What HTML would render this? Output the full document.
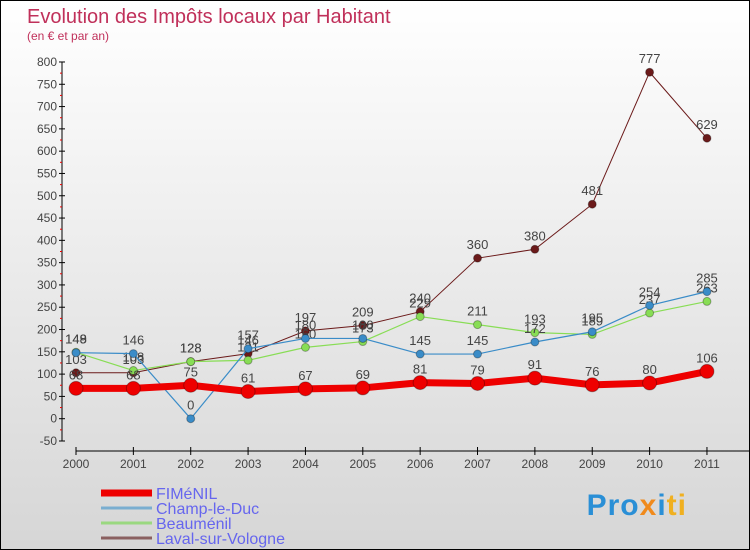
<!DOCTYPE html>
<html><head><meta charset="utf-8"><style>
body{margin:0}
#c{width:748px;height:548px;border:1px solid #000;background:linear-gradient(#fff,#d6d6d6);position:relative;font-family:"Liberation Sans",sans-serif;overflow:hidden}
svg text{font-family:"Liberation Sans",sans-serif}
</style></head><body>
<div id="c">
<svg id="s" width="748" height="548">
<text x="26" y="22" font-size="20" fill="#c0305a">Evolution des Impôts locaux par Habitant</text>
<text x="26" y="39" font-size="12" fill="#c0305a">(en € et par an)</text>
</svg>
<div style="position:absolute;right:62px;top:488px;font-size:30px;font-weight:bold;letter-spacing:1px"><span style="color:#2a8fd6">Pro</span><span style="color:#f08a1c">x</span><span style="color:#2a8fd6">i</span><span style="color:#f0b020">ti</span></div>
</div>
<script>
const years=[2000,2001,2002,2003,2004,2005,2006,2007,2008,2009,2010,2011];
const fimenil=[68,68,75,61,67,69,81,79,91,76,80,106];
const champ=[148,146,0,157,180,180,145,145,172,195,254,285];
const beau=[149,108,128,131,160,173,229,211,193,189,237,263];
const laval=[103,103,128,146,197,209,240,360,380,481,777,629];
const yTicks=[800,750,700,650,600,550,500,450,400,350,300,250,200,150,100,50,0,-50];
const ns="http://www.w3.org/2000/svg",s=document.getElementById('s');
const X=i=>75+i*57.36, Y=v=>417.7-v*0.4459;
function mk(t,a,p){const e=document.createElementNS(ns,t);for(const k in a)e.setAttribute(k,a[k]);(p||s).appendChild(e);return e;}
const ax=mk('g',{});


mk('line',{x1:61,y1:Y(800),x2:61,y2:Y(-50),stroke:'#000'},ax);
mk('line',{x1:75,y1:450,x2:748,y2:450,stroke:'#000'},ax);
yTicks.forEach(v=>{mk('line',{x1:58,x2:64,y1:Y(v),y2:Y(v),stroke:'#000'},ax);
 if(v>-50)mk('line',{x1:59,x2:61,y1:Y(v-25),y2:Y(v-25),stroke:'#e00'},ax);
 const t=mk('text',{x:56,y:Y(v)+4,'text-anchor':'end','font-size':12,fill:'#444'},ax);t.textContent=v;
 
 });
years.forEach((y,i)=>{mk('line',{x1:X(i),x2:X(i),y1:446,y2:454,stroke:'#000'},ax);
 const t=mk('text',{x:X(i),y:467,'text-anchor':'middle','font-size':12,fill:'#444'},ax);t.textContent=y;
 
 });
function series(d,col,w,r,name){const g=mk('g',{});
 
 
 mk('polyline',{points:d.map((v,i)=>X(i)+','+Y(v)).join(' '),fill:'none',stroke:col,'stroke-width':w},g);
 d.forEach((v,i)=>{const c=mk('circle',{cx:X(i),cy:Y(v),r:r,fill:col,stroke:'rgba(0,0,0,0.3)'},g);
  
  
  const t=mk('text',{x:X(i),y:Y(v)-9,'text-anchor':'middle','font-size':13,fill:'#444'},g);t.textContent=v;
  
  });}
series(laval,'#6b1a1a',1,4,'laval-series');
series(beau,'#88dd55',1.2,4,'beaumenil-series');
series(champ,'#3a8cc8',1.2,4,'champ-series');
series(fimenil,'#ee0000',7,7,'fimenil-series');
const leg=[['FIMéNIL','#ee0000',7],['Champ-le-Duc','#7aaed0',3],['Beauménil','#9ad880',3],['Laval-sur-Vologne','#8a6060',3]];
leg.forEach((l,i)=>{const g=mk('g',{});
 
 
 const y=492+i*15;mk('line',{x1:100,x2:151,y1:y,y2:y,stroke:l[1],'stroke-width':l[2]},g);
 const t=mk('text',{x:155,y:y+6,'font-size':16,fill:'#6666ee'},g);t.textContent=l[0];});
</script>
</body></html>
